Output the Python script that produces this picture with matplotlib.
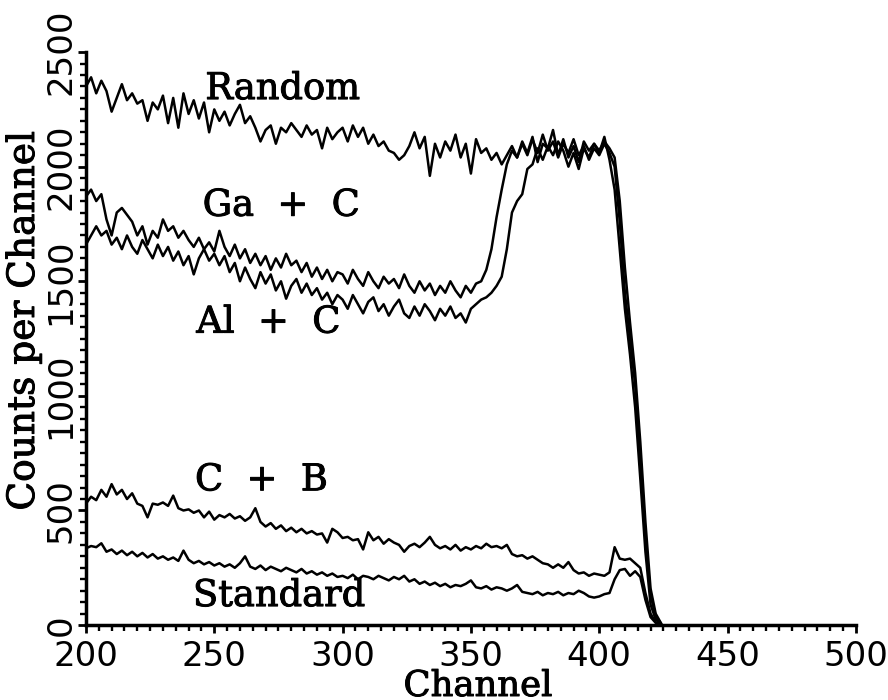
import numpy as np
import matplotlib
matplotlib.use("Agg")
import matplotlib.pyplot as plt
from matplotlib.ticker import MultipleLocator
import matplotlib.patheffects as pe

channels = np.arange(200, 426, 2)

random_counts = [
    2350, 2390, 2320, 2375, 2330, 2240, 2300, 2360, 2290, 2320,
    2275, 2290, 2200, 2280, 2250, 2310, 2190, 2300, 2170, 2320,
    2230, 2290, 2210, 2280, 2150, 2250, 2200, 2240, 2180, 2230,
    2270, 2190, 2220, 2170, 2110, 2160, 2180, 2100, 2170, 2150,
    2190, 2160, 2130, 2180, 2140, 2160, 2080, 2170, 2120, 2150,
    2170, 2110, 2180, 2130, 2170, 2100, 2140, 2090, 2110, 2070,
    2060, 2030, 2050, 2090, 2150, 2080, 2130, 1960, 2100, 2040,
    2110, 2070, 2140, 2040, 2100, 1970, 2120, 2060, 2080, 2030,
    2060, 2010, 2050, 2090, 2040, 2110, 2060, 2130, 2020, 2100,
    2080, 2160, 2050, 2120, 2040, 2090, 2020, 2110, 2070, 2100,
    2060, 2130, 2030, 1900, 1640, 1380, 1180, 950, 640, 320,
    90, 25, 5,
]

ga_c = [
    1870, 1900, 1850, 1880, 1770, 1700, 1800, 1820, 1790, 1760,
    1700, 1740, 1660, 1720, 1690, 1770, 1720, 1740, 1690, 1720,
    1680, 1650, 1690, 1640, 1670, 1630, 1720, 1650, 1610, 1660,
    1600, 1640, 1580, 1620, 1570, 1610, 1550, 1600, 1560, 1620,
    1570, 1590, 1540, 1580, 1520, 1560, 1510, 1550, 1500, 1540,
    1530, 1490, 1550, 1510, 1480, 1540, 1500, 1470, 1520, 1490,
    1510, 1470, 1530, 1480, 1450, 1500, 1460, 1490, 1440, 1480,
    1450, 1500, 1460, 1430, 1480, 1450, 1490, 1500, 1550, 1640,
    1780, 1900, 2010, 2070, 2040, 2100, 2050, 2120, 2060, 2140,
    2070, 2110, 2040, 2100, 2060, 2120, 2050, 2090, 2030, 2080,
    2050, 2100, 2060, 2000, 1760, 1450, 1250, 1050, 720, 380,
    130, 40, 8,
]

al_c = [
    1660, 1700, 1740, 1700, 1720, 1660, 1690, 1640, 1700, 1650,
    1620, 1680, 1640, 1600, 1660, 1610, 1650, 1590, 1630, 1570,
    1610, 1530, 1600, 1640, 1590, 1620, 1570, 1610, 1540, 1580,
    1500, 1560, 1510, 1470, 1540, 1490, 1530, 1460, 1500, 1424,
    1480, 1510, 1450, 1490, 1440, 1470, 1420, 1450, 1400, 1440,
    1420, 1380, 1440, 1400, 1360, 1410, 1430, 1370, 1400, 1350,
    1390, 1420, 1360, 1340, 1390, 1350, 1400, 1370, 1330, 1380,
    1350, 1390, 1340, 1360, 1320, 1380, 1400, 1420, 1430, 1450,
    1480, 1520, 1640, 1800, 1850, 1880, 1990, 2010, 2080, 2030,
    2090, 2050, 2110, 2070, 2000, 2060, 1990, 2080, 2040, 2100,
    2070, 2110, 2080, 2040, 1850, 1560, 1320, 1100, 800, 450,
    160, 50, 10,
]

c_b = [
    530, 560, 545, 590, 560, 615, 570, 590, 550, 575,
    530, 520, 470, 530, 525, 535, 520, 565, 510, 500,
    505, 490, 500, 470, 495, 460, 480, 470, 485, 465,
    475, 455, 470, 510, 450, 430, 445, 420, 435, 410,
    425, 405, 420, 400, 410, 395, 400, 360, 420, 405,
    380, 385, 370, 375, 330, 405, 370, 385, 355, 375,
    360, 350, 320, 345, 355, 340, 360, 385, 350, 335,
    345, 330, 350, 325, 340, 330, 345, 335, 355, 340,
    345, 335, 350, 310, 300, 305, 290, 300, 285, 270,
    265, 250, 265, 250, 275, 240, 225, 230, 215, 225,
    220, 215, 230, 340, 290, 285, 290, 270, 250, 140,
    50, 12, 3,
]

standard = [
    335, 345, 340, 357, 320, 330, 310, 325, 305, 320,
    300, 315, 295, 310, 290, 300, 285, 295, 280, 325,
    285, 270, 280, 265, 275, 260, 270, 255, 265, 250,
    270, 300, 255, 245, 260, 240, 255, 245, 235, 250,
    240, 230, 245, 225, 235, 220, 230, 215, 225, 210,
    215, 205, 220, 200, 215, 210, 200, 215, 205, 195,
    210, 200, 215, 190, 200, 180, 190, 175, 185, 170,
    180, 165, 175, 170, 180, 195, 165, 160, 170, 155,
    165, 160, 150, 160, 175, 145, 140, 135, 145, 130,
    140, 135, 145, 130, 140, 135, 150, 140, 125, 120,
    125, 135, 140, 200, 240, 245, 215, 235, 210, 110,
    35, 10, 2,
]

series = [random_counts, ga_c, al_c, c_b, standard]

labels = ["Random", "Ga  +  C", "Al  +  C", "C  +  B", "Standard"]
label_x = [246.5, 245.5, 243.0, 242.5, 241.7]
label_y = [2295, 1786, 1276, 588, 83]

xticks = [200, 250, 300, 350, 400, 450, 500]
yticks = [0, 500, 1000, 1500, 2000, 2500]

fig = plt.figure(figsize=(8.88, 7.0), dpi=100)
ax = fig.add_axes([0.0968, 0.107, 0.867, 0.8186])

for s in series:
    ax.plot(channels, s, color="black", lw=1.8, solid_joinstyle="round")

serif = "DejaVu Serif"
thick = [pe.withStroke(linewidth=0.7, foreground="black")]
for t, x, y in zip(labels, label_x, label_y):
    ax.text(x, y, t, family=serif, fontsize=26.5,
            ha="left", va="baseline", color="black", path_effects=thick)

ax.set_xlim(200, 500)
ax.set_ylim(0, 2500)
ax.set_xticks(xticks)
ax.set_yticks(yticks)
ax.set_xticklabels([str(v) for v in xticks], family="DejaVu Sans", fontsize=24.5)
ax.set_yticklabels([str(v) for v in yticks], family="DejaVu Sans", fontsize=24.5,
                   rotation=90, va="center")
ax.xaxis.set_minor_locator(MultipleLocator(5))
ax.yaxis.set_minor_locator(MultipleLocator(50))

for side in ["top", "right"]:
    ax.spines[side].set_visible(False)
for side in ["left", "bottom"]:
    ax.spines[side].set_linewidth(2.5)

ax.tick_params(axis="x", which="major", direction="out", length=6, width=2.0, pad=4.5)
ax.tick_params(axis="y", which="major", direction="out", length=6, width=2.0, pad=0)
ax.tick_params(which="minor", direction="out", length=4, width=1.7)

fig.text(478 / 888, 4 / 700, "Channel", family=serif, fontsize=25.5,
         ha="center", va="baseline", path_effects=thick)
fig.text(24 / 888, 1 - 321 / 700, "Counts per Channel", family=serif, fontsize=27,
         rotation=90, ha="center", va="center", path_effects=thick)

fig.savefig("out.png", dpi=100)
